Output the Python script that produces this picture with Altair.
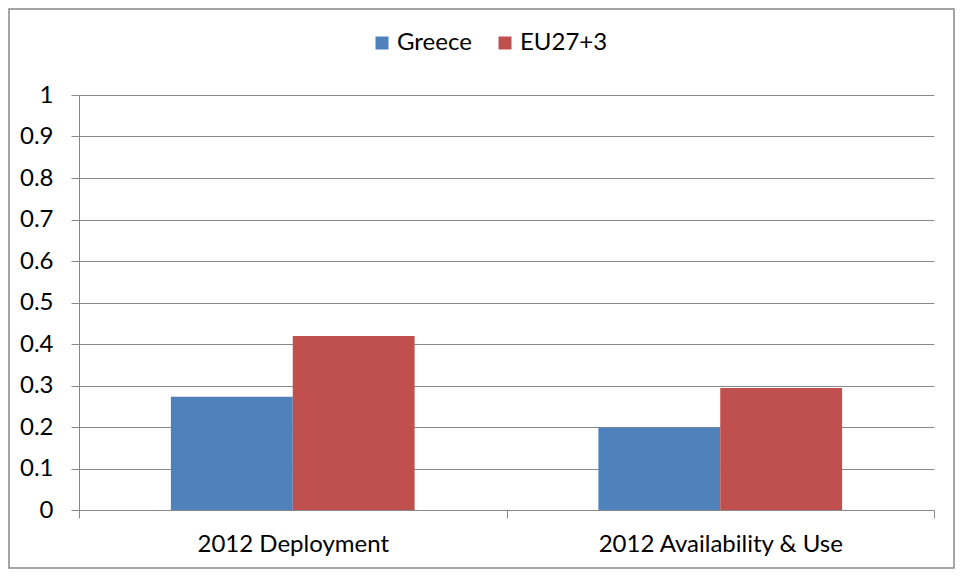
import altair as alt
import pandas as pd

categories = ["2012 Deployment", "2012 Availability & Use"]
series = ["Greece", "EU27+3"]
greece = [0.273, 0.199]
eu = [0.419, 0.294]
colors = ["#4F81BD", "#C0504D"]

rows = []
for i, c in enumerate(categories):
    rows.append({"category": c, "series": series[0], "value": greece[i]})
    rows.append({"category": c, "series": series[1], "value": eu[i]})
df = pd.DataFrame(rows)

FONT = "Lato"
GRAY = "#888888"
W, H = 855, 415
PL, PT, PR, PB = 71, 87, 21, 59

bars = alt.Chart(df).mark_bar().encode(
    x=alt.X("category:N", sort=categories, title=None,
            scale=alt.Scale(paddingInner=0, paddingOuter=0),
            axis=alt.Axis(labelAngle=0, labelFontSize=24, labelFont=FONT, labelColor="#000000",
                          labelLimit=500,
                          tickBand="extent", tickSize=8, tickColor=GRAY, domainColor=GRAY,
                          labelPadding=14, grid=False)),
    xOffset=alt.XOffset("series:N", sort=series,
                        scale=alt.Scale(paddingInner=0, paddingOuter=0.754)),
    y=alt.Y("value:Q", title=None,
            scale=alt.Scale(domain=[0, 1], nice=False),
            axis=alt.Axis(values=[i / 10 for i in range(11)], format=".1~f",
                          labelFontSize=24, labelFont=FONT, labelColor="#000000",
                          tickSize=8, tickColor=GRAY, domainColor=GRAY,
                          gridColor=GRAY, labelPadding=18)),
    color=alt.Color("series:N", sort=series, title=None,
                    scale=alt.Scale(domain=series, range=colors),
                    legend=alt.Legend(orient="none", legendX=291, legendY=-64,
                                      direction="horizontal", symbolType="square",
                                      symbolSize=169, symbolStrokeWidth=0,
                                      labelFontSize=24, labelFont=FONT, labelColor="#000000",
                                      labelOffset=3, columnPadding=21)),
)

border = alt.Chart(pd.DataFrame({"a": [0]})).mark_rect(
    fill="transparent", stroke=GRAY, strokeWidth=1.5
).encode(
    x=alt.value(-PL + 1), x2=alt.value(W + PR - 1),
    y=alt.value(-PT + 1), y2=alt.value(H + PB - 1),
)

chart = alt.layer(bars, border).properties(
    width=W, height=H,
    autosize=alt.AutoSizeParams(type="none"),
    padding={"left": PL, "top": PT, "right": PR, "bottom": PB},
).configure_view(stroke=None).configure_axis(gridWidth=1, domainWidth=1, tickWidth=1)

chart.save("out.html", embed_options={"renderer": "svg", "actions": False})
